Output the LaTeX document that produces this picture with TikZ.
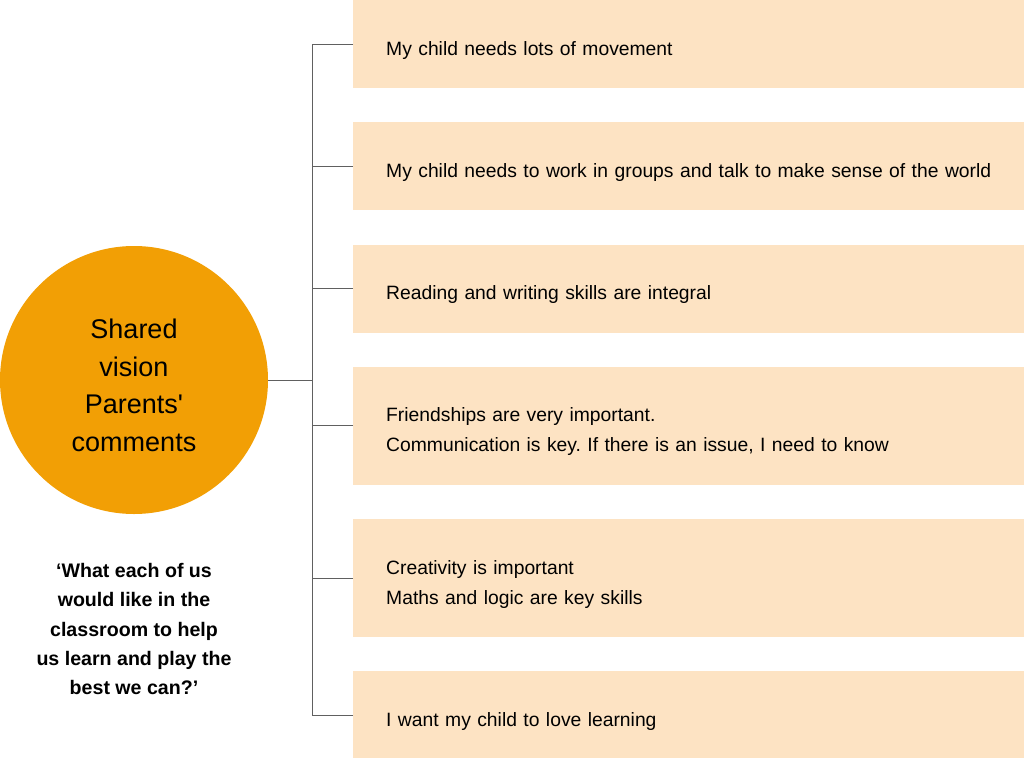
\documentclass[tikz,border=0pt]{standalone}
\usepackage{fontspec}
\setmainfont{Liberation Sans}
\newfontfamily\visionfont{Liberation Sans}
\usetikzlibrary{positioning}
\definecolor{visionorange}{HTML}{F29F05}
\definecolor{commentpeach}{HTML}{FDE3C3}
\definecolor{linegray}{HTML}{606060}
\frenchspacing

\begin{document}
\begin{tikzpicture}[x=1pt, y=-1pt, node distance=33.8pt]

% Define styles
\tikzstyle{vision} = [circle, fill=visionorange, minimum size=268pt, inner sep=0pt, align=center, font=\visionfont\fontsize{27}{37.5}\selectfont]
\tikzstyle{comment} = [rectangle, fill=commentpeach, minimum width=671pt, minimum height=88pt, inner xsep=33pt, text width=640pt, align=left, font=\fontsize{19.3}{30}\selectfont, execute at begin node={\rule{0pt}{26pt}}]
\tikzstyle{tall} = [minimum height=118pt]
\tikzstyle{question} = [align=center, font=\bfseries\fontsize{19.6}{29.3}\selectfont]
\tikzstyle{link} = [draw=linegray, line width=1pt]

\useasboundingbox (0,0) rectangle (1024,757);

% Parents' comments
\node (com_1) [comment, anchor=north west] at (353,0) {My child needs lots of movement};
\node (com_2) [comment, below=of com_1] {My child needs to work in groups and talk to make sense of the world};
\node (com_3) [comment, below=of com_2] {Reading and writing skills are integral};
\node (com_4) [comment, tall, below=of com_3] {Friendships are very important.\\Communication is key. If there is an issue, I need to know};
\node (com_5) [comment, tall, below=of com_4] {Creativity is important\\Maths and logic are key skills};
\node (com_6) [comment, below=of com_5] {I want my child to love learning};

% Shared vision
\node (vision_circle) [vision] at (134,380) {\rule{0pt}{30pt}Shared\\vision\\Parents'\\comments};
\node (question) [question] at (134,629) {‘What each of us\\would like in the\\classroom to help\\us learn and play the\\best we can?’};

% Connect circle to comments
\coordinate (hub) at (312,380);
\draw [link] (vision_circle) -- (hub);
\foreach \i in {1,...,6}
  \draw [link] (com_\i.west) -| (hub);

\end{tikzpicture}
\end{document}
